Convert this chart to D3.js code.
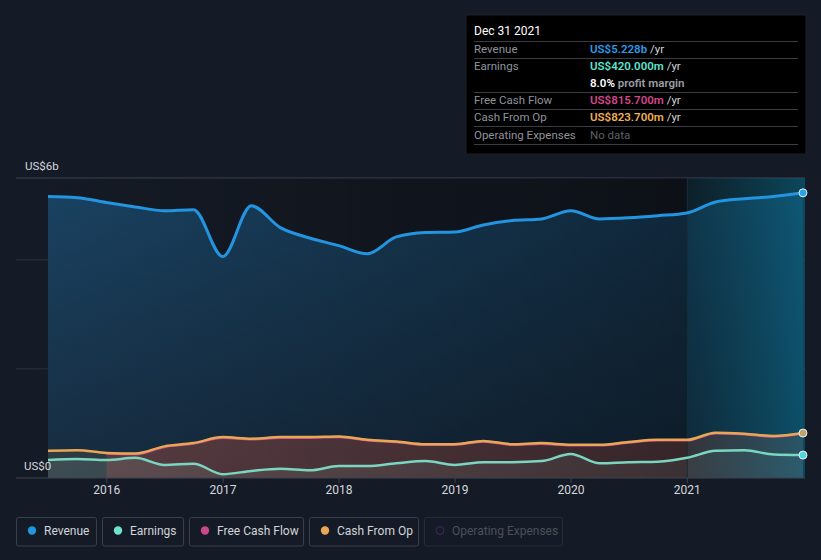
<!DOCTYPE html>
<html><head><meta charset="utf-8">
<script src="https://cdn.jsdelivr.net/npm/d3@7"></script>
<style>
html,body{margin:0;padding:0;background:#151b26;}
svg{display:block;font-family:Roboto,"Open Sans",sans-serif;}
</style></head>
<body><svg id="c" width="821" height="560"></svg>
<script>
// quarterly dates Jun 2015 .. Dec 2021
const dates = ["2015-06-30","2015-09-30","2015-12-31","2016-03-31","2016-06-30","2016-09-30","2016-12-31",
"2017-03-31","2017-06-30","2017-09-30","2017-12-31","2018-03-31","2018-06-30","2018-09-30","2018-12-31",
"2019-03-31","2019-06-30","2019-09-30","2019-12-31","2020-03-31","2020-06-30","2020-09-30","2020-12-31",
"2021-03-31","2021-06-30","2021-09-30","2021-12-31"];
const revenue = [5.16,5.14,5.05,4.97,4.90,4.92,4.06,4.99,4.59,4.40,4.26,4.11,4.42,4.50,4.51,4.64,4.72,4.75,4.90,4.75,4.77,4.81,4.86,5.06,5.12,5.16,5.228];
const earnings = [0.33,0.35,0.33,0.37,0.24,0.26,0.07,0.13,0.17,0.14,0.22,0.22,0.27,0.31,0.24,0.29,0.29,0.31,0.44,0.27,0.29,0.30,0.37,0.50,0.51,0.43,0.42];
const cashFromOp = [0.50,0.51,0.46,0.45,0.58,0.64,0.75,0.72,0.75,0.75,0.76,0.70,0.67,0.62,0.62,0.68,0.62,0.64,0.61,0.61,0.66,0.70,0.70,0.83,0.81,0.77,0.8237];
const freeCashFlow = [null,null,0.45,0.44,0.57,0.63,0.74,0.71,0.74,0.74,0.75,0.69,0.66,0.61,0.61,0.67,0.61,0.63,0.60,0.60,0.65,0.69,0.69,0.82,0.80,0.76,0.8157];
const yearTicks = [2016,2017,2018,2019,2020,2021];
const legendItems = [
  {name:"Revenue", color:"#2394df"},
  {name:"Earnings", color:"#6fe3cc"},
  {name:"Free Cash Flow", color:"#c9488a"},
  {name:"Cash From Op", color:"#e9a755"},
  {name:"Operating Expenses", color:"#3b2553", off:true}
];
const tooltipRows = [
  {label:"Revenue", value:"US$5.228b", color:"#2b9be6", unit:" /yr"},
  {label:"Earnings", value:"US$420.000m", color:"#5ee3cc", unit:" /yr"},
  {label:"", value:"8.0%", color:"#ffffff", unit:" profit margin"},
  {label:"Free Cash Flow", value:"US$815.700m", color:"#d5468c", unit:" /yr"},
  {label:"Cash From Op", value:"US$823.700m", color:"#f0b055", unit:" /yr"},
  {label:"Operating Expenses", value:"No data", color:"#5d6068", unit:"", plain:true}
];

const parse = d3.timeParse("%Y-%m-%d");
const D = dates.map(parse);
const svg = d3.select("#c");
const pL=16, pR=805, pT=178, pB=478;
const x = d3.scaleTime().domain([parse("2015-06-30"), parse("2021-12-31")]).range([48, 803]);
const y = d3.scaleLinear().domain([0,5.5]).range([pB, pT]);

const defs = svg.append("defs");
const g1 = defs.append("linearGradient").attr("id","revFill").attr("x1",0).attr("x2",0).attr("y1",0).attr("y2",1);
g1.append("stop").attr("offset","0%").attr("stop-color","#1a4363");
g1.append("stop").attr("offset","100%").attr("stop-color","#172c40");
const g2 = defs.append("linearGradient").attr("id","dark").attr("x1",0).attr("x2",1).attr("y1",0).attr("y2",0);
g2.append("stop").attr("offset","0%").attr("stop-color","#000").attr("stop-opacity",0);
g2.append("stop").attr("offset","100%").attr("stop-color","#000").attr("stop-opacity",0.4);
const g3 = defs.append("linearGradient").attr("id","hl").attr("x1",0).attr("x2",1).attr("y1",0).attr("y2",0);
g3.append("stop").attr("offset","0%").attr("stop-color","#0a8aa8").attr("stop-opacity",0.12);
g3.append("stop").attr("offset","100%").attr("stop-color","#0aa0cc").attr("stop-opacity",0.38);

// gridlines
svg.append("g").selectAll("line").data([2,4]).join("line")
  .attr("x1",pL).attr("x2",pR).attr("y1",d=>y(d)).attr("y2",d=>y(d))
  .attr("stroke","#2a3340").attr("stroke-width",1);
svg.append("line").attr("x1",pL).attr("x2",pR).attr("y1",pT).attr("y2",pT).attr("stroke","#3c4350");

const curve = d3.curveMonotoneX;
function areaOf(arr){
  return d3.area().defined((d,i)=>arr[i]!=null).curve(curve).x((d,i)=>x(D[i])).y0(y(0)).y1((d,i)=>y(arr[i]))(arr);
}
function lineOf(arr){
  return d3.line().defined((d,i)=>arr[i]!=null).curve(curve).x((d,i)=>x(D[i])).y((d,i)=>y(arr[i]))(arr);
}
svg.append("path").attr("d",areaOf(revenue)).attr("fill","url(#revFill)");
svg.append("path").attr("d",areaOf(cashFromOp)).attr("fill","rgba(233,167,85,0.12)");
svg.append("path").attr("d",areaOf(freeCashFlow)).attr("fill","rgba(200,70,70,0.28)");
svg.append("path").attr("d",areaOf(earnings)).attr("fill","rgba(150,200,190,0.14)");

// overlays
const x21 = x(parse("2021-01-01"));
svg.append("rect").attr("x",pL).attr("y",pT).attr("width",x21-pL).attr("height",pB-pT).attr("fill","url(#dark)");
svg.append("rect").attr("x",x21).attr("y",pT).attr("width",pR-x21).attr("height",pB-pT).attr("fill","#000").attr("fill-opacity",0.35);
svg.append("rect").attr("x",x21).attr("y",pT).attr("width",pR-x21).attr("height",pB-pT).attr("fill","url(#hl)");
svg.append("line").attr("x1",x21).attr("x2",x21).attr("y1",pT).attr("y2",pB).attr("stroke","#12303c").attr("stroke-width",1);

svg.append("path").attr("d",lineOf(freeCashFlow)).attr("fill","none").attr("stroke","#c9488a").attr("stroke-width",2.5);
svg.append("path").attr("d",lineOf(cashFromOp)).attr("fill","none").attr("stroke","#e9a755").attr("stroke-width",2.5);
svg.append("path").attr("d",lineOf(earnings)).attr("fill","none").attr("stroke","#7bd6c0").attr("stroke-width",2.5);
svg.append("path").attr("d",lineOf(revenue)).attr("fill","none").attr("stroke","#2394df").attr("stroke-width",3);

// end dots
const last = D.length-1;
[{v:cashFromOp[last],c:"#c2a36a"},{v:earnings[last],c:"#4fd6e0"},{v:revenue[last],c:"#2aa2ea"}].forEach(p=>{
  svg.append("circle").attr("cx",x(D[last])).attr("cy",y(p.v)).attr("r",4).attr("fill",p.c).attr("stroke","#e8f0f4").attr("stroke-width",1);
});

// x axis
svg.append("line").attr("x1",pL).attr("x2",pR).attr("y1",pB).attr("y2",pB).attr("stroke","#3c4350");
const xa = svg.append("g");
yearTicks.forEach(yr=>{
  const px = x(new Date(yr,0,1));
  xa.append("line").attr("x1",px).attr("x2",px).attr("y1",pB).attr("y2",pB+5).attr("stroke","#3c4350");
  xa.append("text").attr("x",px).attr("y",494).attr("text-anchor","middle").attr("fill","#d5d8dd").attr("font-size",12).text(yr);
});
svg.append("text").attr("x",25).attr("y",170).attr("fill","#d5d8dd").attr("font-size",11.5).text("US$6b");
svg.append("text").attr("x",24).attr("y",470).attr("fill","#d5d8dd").attr("font-size",11.5).text("US$0");

// legend
const lg = svg.append("g");
let lx = 16;
const widths = [81,82,115,110,139];
legendItems.forEach((it,i)=>{
  const w = widths[i];
  const gg = lg.append("g").attr("transform",`translate(${lx},517)`);
  gg.append("rect").attr("x",0.5).attr("y",0.5).attr("width",w-1).attr("height",28.5).attr("rx",2)
    .attr("fill","none").attr("stroke",it.off?"#262c37":"#3a404b");
  if(it.off){
    gg.append("circle").attr("cx",16).attr("cy",13.5).attr("r",3.8).attr("fill","none").attr("stroke",it.color).attr("stroke-width",1.3);
  } else {
    gg.append("circle").attr("cx",16).attr("cy",13.5).attr("r",4.2).attr("fill",it.color);
  }
  gg.append("text").attr("x",28).attr("y",17.5).attr("font-size",12).attr("fill",it.off?"#4b505a":"#d2d5da").text(it.name);
  lx += w + 5;
});

// tooltip
const tt = svg.append("g");
tt.append("rect").attr("x",466).attr("y",15).attr("width",340).attr("height",139).attr("fill","#000").attr("stroke","#1c2028");
tt.append("text").attr("x",474).attr("y",35).attr("fill","#fff").attr("font-size",12).text("Dec 31 2021");
const seps = [41,58,92,109,126,144];
seps.forEach(s=>tt.append("line").attr("x1",474).attr("x2",798).attr("y1",s+0.5).attr("y2",s+0.5).attr("stroke","#3a3d44"));
const rowY = [53,70,87,104,121,139];
tooltipRows.forEach((r,i)=>{
  if(r.label) tt.append("text").attr("x",474).attr("y",rowY[i]).attr("fill","#8f939b").attr("font-size",11.5).text(r.label);
  const t = tt.append("text").attr("x",590).attr("y",rowY[i]).attr("font-size",11.5);
  t.append("tspan").attr("fill",r.color).attr("font-weight",r.plain?400:600).text(r.value);
  if(r.unit) t.append("tspan").attr("fill",i===2?"#9a9ea6":"#d2d5da").attr("font-weight",i===2?600:400).text(r.unit);
});
</script></body></html>
